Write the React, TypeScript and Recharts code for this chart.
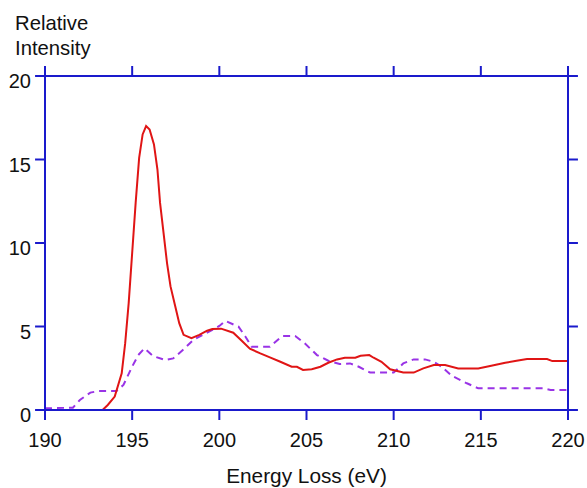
import React from "react";
import { LineChart, Line, XAxis, YAxis, ReferenceLine } from "recharts";

// solid red spectrum (energy in eV, relative intensity)
const redEnergy = [
  193.3, 193.6, 194.0, 194.4, 194.6, 194.8, 195.0, 195.2, 195.4, 195.6, 195.8, 196.0,
  196.25, 196.45, 196.6, 196.8, 197.0, 197.2, 197.45, 197.7, 197.95, 198.4, 198.85,
  199.3, 199.6, 200.1, 200.8, 201.3, 201.75, 202.35, 202.9, 203.5, 204.15, 204.45,
  204.8, 205.3, 205.8, 206.25, 206.75, 207.2, 207.8, 208.1, 208.6, 208.85, 209.3,
  209.8, 210.55, 211.15, 211.7, 212.3, 212.95, 213.7, 214.85, 215.6, 216.4, 217.05,
  217.65, 218.8, 219.1, 220.0,
];
const redIntensity = [
  0.0, 0.3, 0.8, 2.2, 4.0, 6.4, 9.4, 12.4, 15.1, 16.5, 17.0, 16.8,
  15.9, 14.4, 12.4, 10.6, 8.8, 7.4, 6.3, 5.2, 4.5, 4.3, 4.5,
  4.75, 4.85, 4.87, 4.63, 4.13, 3.67, 3.39, 3.15, 2.89, 2.59, 2.59,
  2.4, 2.44, 2.59, 2.83, 3.03, 3.13, 3.13, 3.25, 3.29, 3.13, 2.89,
  2.44, 2.24, 2.24, 2.49, 2.69, 2.69, 2.49, 2.49, 2.65, 2.83, 2.95,
  3.05, 3.05, 2.93, 2.93,
];

// dashed purple spectrum
const purpleEnergy = [
  190.0, 191.6, 192.0, 192.6, 193.1, 194.1, 194.5, 195.0, 195.35, 195.7, 196.2,
  196.9, 197.35, 197.95, 198.5, 199.3, 200.0, 200.35, 201.1, 201.5, 201.85, 202.9,
  203.6, 204.35, 204.9, 205.6, 206.25, 206.9, 207.5, 208.0, 208.65, 210.0, 210.55,
  211.15, 211.8, 212.3, 212.75, 213.35, 214.2, 214.85, 218.6, 219.0, 220.0,
];
const purpleIntensity = [
  0.1, 0.14, 0.6, 1.04, 1.14, 1.14, 1.5, 2.6, 3.29, 3.69, 3.23,
  2.99, 3.09, 3.63, 4.19, 4.63, 5.03, 5.33, 4.99, 4.39, 3.79, 3.79,
  4.43, 4.43, 3.99, 3.29, 2.95, 2.75, 2.79, 2.59, 2.24, 2.24, 2.79,
  3.03, 3.03, 2.89, 2.59, 2.04, 1.6, 1.3, 1.3, 1.2, 1.2,
];

const xTicks = [190, 195, 200, 205, 210, 215, 220];
const yTicks = [0, 5, 10, 15, 20];

const redData = redEnergy.map((e, i) => ({ e, v: redIntensity[i] }));
const purpleData = purpleEnergy.map((e, i) => ({ e, v: purpleIntensity[i] }));

const BLUE = "#1a1acc";
const FONT = "'Liberation Sans', Arial, sans-serif";
const X0 = 190, X1 = 220, Y0 = 0, Y1 = 20;
// outward tick length (~10px) expressed in data units
const TX = 0.57;
const TY = 0.6;

const BottomLabel = ({ x, y, payload }: any) => (
  <text x={x} y={y} dy={27} textAnchor="middle" fill="#111" fontSize={20} fontFamily={FONT}>
    {payload.value}
  </text>
);
const LeftLabel = ({ x, y, payload }: any) => (
  <text x={x} y={y} dy={12} textAnchor="end" fill="#111" fontSize={20} fontFamily={FONT}>
    {payload.value}
  </text>
);

export default function App() {
  return (
    <div style={{ position: "absolute", left: 0, top: 0, width: 587, height: 488, background: "#fff" }}>
      <svg width={587} height={488} style={{ position: "absolute", left: 0, top: 0 }}>
        <text x={15} y={30} fontSize={20.3} fontFamily={FONT} fill="#111">Relative</text>
        <text x={15} y={55} fontSize={20.3} fontFamily={FONT} fill="#111">Intensity</text>
        <text x={306.5} y={483} textAnchor="middle" fontSize={20.8} fontFamily={FONT} fill="#111">
          Energy Loss (eV)
        </text>
      </svg>
      <div style={{ position: "absolute", left: 0, top: 0 }}>
        <LineChart width={587} height={488} margin={{ top: 66, right: 9, bottom: 0, left: 0 }}>
          <XAxis
            xAxisId="b"
            dataKey="e"
            type="number"
            domain={[X0, X1]}
            ticks={xTicks}
            height={78}
            stroke={BLUE}
            strokeWidth={2}
            tickSize={10}
            tickMargin={0}
            tickLine={false}
            tick={<BottomLabel />}
            allowDataOverflow
          />
          <XAxis
            xAxisId="t"
            orientation="top"
            dataKey="e"
            type="number"
            domain={[X0, X1]}
            ticks={xTicks}
            height={10}
            stroke={BLUE}
            strokeWidth={2}
            tickLine={false}
            tick={false}
          />
          <YAxis
            yAxisId="l"
            type="number"
            domain={[Y0, Y1]}
            ticks={yTicks}
            width={45}
            stroke={BLUE}
            strokeWidth={2}
            tickSize={11}
            tickMargin={3}
            tickLine={false}
            tick={<LeftLabel />}
            allowDataOverflow
          />
          <YAxis
            yAxisId="r"
            orientation="right"
            type="number"
            domain={[Y0, Y1]}
            ticks={yTicks}
            width={10}
            stroke={BLUE}
            strokeWidth={2}
            tickLine={false}
            tick={false}
          />
          {xTicks.map((t) => (
            <ReferenceLine
              key={"b" + t}
              xAxisId="b"
              yAxisId="l"
              ifOverflow="visible"
              segment={[{ x: t, y: Y0 }, { x: t, y: Y0 - TY }]}
              stroke={BLUE}
              strokeWidth={2}
            />
          ))}
          {xTicks.map((t) => (
            <ReferenceLine
              key={"t" + t}
              xAxisId="b"
              yAxisId="l"
              ifOverflow="visible"
              segment={[{ x: t, y: Y1 }, { x: t, y: Y1 + TY }]}
              stroke={BLUE}
              strokeWidth={2}
            />
          ))}
          {yTicks.map((t) => (
            <ReferenceLine
              key={"l" + t}
              xAxisId="b"
              yAxisId="l"
              ifOverflow="visible"
              segment={[{ x: X0 - TX, y: t }, { x: X0, y: t }]}
              stroke={BLUE}
              strokeWidth={2}
            />
          ))}
          {yTicks.map((t) => (
            <ReferenceLine
              key={"r" + t}
              xAxisId="b"
              yAxisId="l"
              ifOverflow="visible"
              segment={[{ x: X1, y: t }, { x: X1 + TX, y: t }]}
              stroke={BLUE}
              strokeWidth={2}
            />
          ))}
          <Line
            xAxisId="b"
            yAxisId="l"
            data={purpleData}
            dataKey="v"
            type="linear"
            stroke="#9933e6"
            strokeWidth={2}
            strokeDasharray="7 5"
            dot={false}
            isAnimationActive={false}
          />
          <Line
            xAxisId="b"
            yAxisId="l"
            data={redData}
            dataKey="v"
            type="linear"
            stroke="#e01515"
            strokeWidth={2}
            dot={false}
            isAnimationActive={false}
          />
        </LineChart>
      </div>
    </div>
  );
}
